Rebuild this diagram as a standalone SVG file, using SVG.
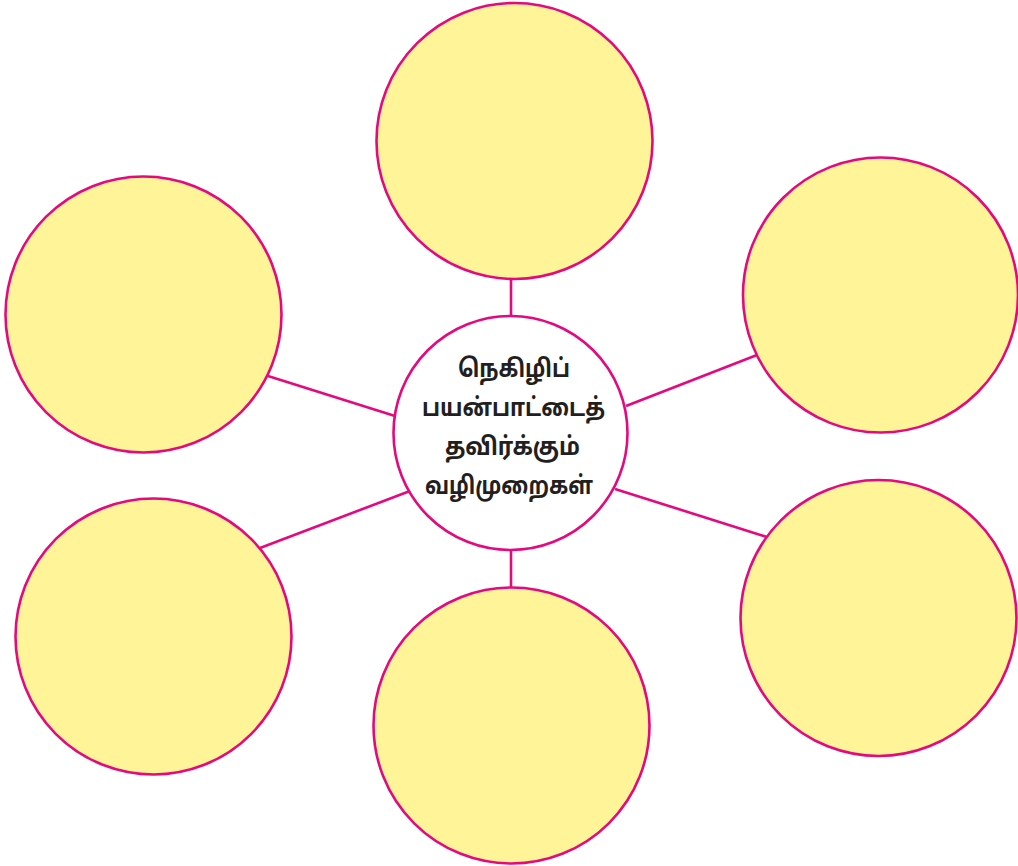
<svg xmlns="http://www.w3.org/2000/svg" width="1018" height="866" viewBox="0 0 1018 866">
<style>
.n{fill:#FFF497;stroke:#E5097F;stroke-width:2.6}
.c{fill:#FFFFFF;stroke:#E5097F;stroke-width:2.6}
.e{stroke:#E5097F;stroke-width:2.6;fill:none}
.t{font-family:"Noto Sans Tamil","Noto Sans","Lohit Tamil","Liberation Sans",sans-serif;font-weight:bold;font-size:25px;fill:#231F20;text-anchor:middle}
</style>
<rect width="1018" height="866" fill="#FFFFFF"/>
<g id="connectors">
<line class="e" x1="511" y1="279" x2="511" y2="316"/>
<line class="e" x1="511" y1="550" x2="511" y2="587"/>
<line class="e" x1="268" y1="376" x2="395" y2="416"/>
<line class="e" x1="260" y1="548" x2="410" y2="491"/>
<line class="e" x1="626" y1="406" x2="757" y2="355"/>
<line class="e" x1="615" y1="489" x2="767" y2="537"/>
</g>
<g id="node-top"><circle class="n" cx="514.5" cy="141" r="138"/></g>
<g id="node-left-top"><circle class="n" cx="143.5" cy="314.5" r="138"/></g>
<g id="node-right-top"><circle class="n" cx="880.5" cy="295" r="137.5"/></g>
<g id="node-right-bottom"><circle class="n" cx="878.5" cy="618" r="138"/></g>
<g id="node-left-bottom"><circle class="n" cx="153.5" cy="636.5" r="138"/></g>
<g id="node-bottom"><circle class="n" cx="511.5" cy="725.5" r="138"/></g>
<g id="node-center">
<circle class="c" cx="510.5" cy="433" r="117"/>
<text class="t" x="514" y="377" textLength="112" lengthAdjust="spacingAndGlyphs">நெகிழிப்</text>
<text class="t" x="513.5" y="416" textLength="183" lengthAdjust="spacingAndGlyphs">பயன்பாட்டைத்</text>
<text class="t" x="512.5" y="455" textLength="135" lengthAdjust="spacingAndGlyphs">தவிர்க்கும்</text>
<text class="t" x="509" y="494" textLength="168" lengthAdjust="spacingAndGlyphs">வழிமுறைகள்</text>
</g>
</svg>
